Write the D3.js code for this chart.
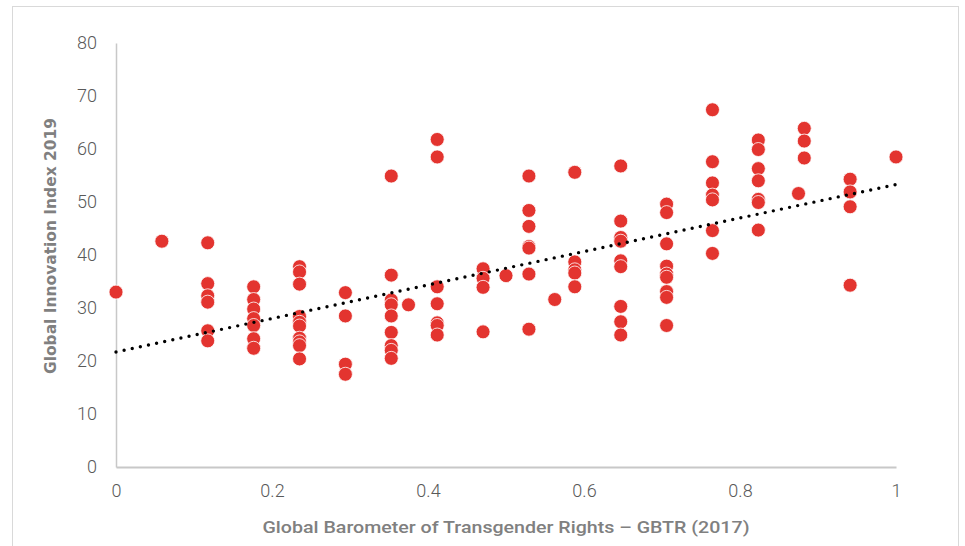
<!DOCTYPE html>
<html>
<head>
<meta charset="utf-8">
<script src="https://cdn.jsdelivr.net/npm/d3@7"></script>
<style>
  html, body { margin: 0; padding: 0; background: #fff; }
  svg { display: block; }
</style>
</head>
<body>
<svg id="chart" width="965" height="546"></svg>
<script>
// GBTR score levels (x) and the GII 2019 values (y) of the countries at each level
const gbtrLevels = [0, 0.0588, 0.1176, 0.1765, 0.2353, 0.2941, 0.3529, 0.375, 0.4118, 0.4706, 0.5,
                    0.5294, 0.5625, 0.5882, 0.6471, 0.7059, 0.7647, 0.8235, 0.875, 0.8824, 0.9412, 1];
const giiByLevel = [
  [33.0],
  [42.6],
  [42.3, 34.6, 32.3, 31.1, 25.7, 23.8],
  [34.0, 31.6, 29.8, 28.0, 26.7, 24.2, 22.4],
  [37.8, 36.8, 34.5, 28.4, 27.3, 26.6, 24.3, 23.6, 22.9, 20.4],
  [32.9, 28.5, 19.4, 17.5],
  [54.9, 36.2, 31.5, 30.6, 28.5, 25.4, 22.9, 22.0, 20.5],
  [30.6],
  [61.8, 58.5, 34.0, 30.8, 27.2, 26.7, 24.9],
  [37.4, 35.6, 33.9, 25.5],
  [36.1],
  [54.9, 48.4, 45.4, 41.6, 41.3, 36.4, 26.0],
  [31.6],
  [55.6, 38.7, 37.2, 36.6, 34.0],
  [56.8, 46.4, 43.3, 42.6, 38.9, 37.8, 30.3, 27.4, 24.9],
  [49.6, 48.0, 42.1, 37.9, 36.4, 35.8, 33.1, 32.0, 26.7],
  [67.4, 57.6, 53.6, 51.3, 50.4, 44.6, 40.3],
  [61.7, 59.9, 56.3, 54.0, 50.5, 49.9, 44.7],
  [51.6],
  [63.9, 61.5, 58.3],
  [54.3, 51.9, 49.1, 34.3],
  [58.5]
];
// linear trendline as shown in the picture (intercept and slope)
const trendIntercept = 21.7;
const trendSlope = 31.6;
const xTicks = [0, 0.2, 0.4, 0.6, 0.8, 1];
const xTickLabels = ["0", "0.2", "0.4", "0.6", "0.8", "1"];
const yTicks = [0, 10, 20, 30, 40, 50, 60, 70, 80];
const xTitle = "Global Barometer of Transgender Rights – GBTR (2017)";
const yTitle = "Global Innovation Index 2019";

const points = [];
gbtrLevels.forEach((g, i) => giiByLevel[i].forEach(v => points.push({x: g, y: v})));

const svg = d3.select("#chart");

// outer chart-area border
svg.append("rect").attr("x", 12.5).attr("y", 6.5).attr("width", 946).attr("height", 560)
  .attr("fill", "#fff").attr("stroke", "#d9d9d9").attr("stroke-width", 1);

const x = d3.scaleLinear().domain([0, 1]).range([116, 896]);
const y = d3.scaleLinear().domain([0, 80]).range([467, 43]);

const tickFont = "Roboto, 'DejaVu Sans Condensed', sans-serif";

// Y axis
const yAxis = svg.append("g").attr("transform", `translate(${x(0)},0)`)
  .call(d3.axisLeft(y).tickValues(yTicks).tickSize(0).tickPadding(19));
yAxis.select(".domain").attr("stroke", "#c8c8c8").attr("stroke-width", 1.5);
yAxis.selectAll("text").attr("font-family", tickFont).attr("font-weight", 300)
  .attr("font-size", "18px").attr("fill", "#595959");

// X axis
const xAxis = svg.append("g").attr("transform", `translate(0,${y(0)})`)
  .call(d3.axisBottom(x).tickValues(xTicks).tickFormat((d, i) => xTickLabels[i]).tickSize(0).tickPadding(17));
xAxis.select(".domain").attr("stroke", "#c8c8c8").attr("stroke-width", 2);
xAxis.selectAll("text").attr("font-family", tickFont).attr("font-weight", 300)
  .attr("font-size", "18px").attr("fill", "#595959");

// points
svg.append("g").selectAll("circle").data(points).join("circle")
  .attr("cx", d => x(d.x)).attr("cy", d => y(d.y)).attr("r", 7)
  .attr("fill", "#e3342f").attr("stroke", "#fff").attr("stroke-width", 0.8);

// linear trendline over the data range
const xr = d3.extent(points, d => d.x);
svg.append("path")
  .attr("d", d3.line().x(d => x(d)).y(d => y(trendIntercept + trendSlope * d))(xr))
  .attr("stroke", "#000").attr("stroke-width", 3.4).attr("stroke-linecap", "round")
  .attr("stroke-dasharray", "0,8.3").attr("fill", "none");

// axis titles
svg.append("text").attr("x", 506).attr("y", 533).attr("text-anchor", "middle")
  .attr("font-family", "Roboto, sans-serif").attr("font-weight", 500).attr("font-size", "17px")
  .attr("textLength", 487).attr("lengthAdjust", "spacingAndGlyphs")
  .attr("fill", "#808080").text(xTitle);

svg.append("text").attr("transform", "translate(56,246) rotate(-90)").attr("text-anchor", "middle")
  .attr("font-family", "Verdana, 'DejaVu Sans', sans-serif").attr("font-weight", "bold").attr("font-size", "15px")
  .attr("textLength", 256).attr("lengthAdjust", "spacingAndGlyphs")
  .attr("fill", "#808080").text(yTitle);
</script>
</body>
</html>
